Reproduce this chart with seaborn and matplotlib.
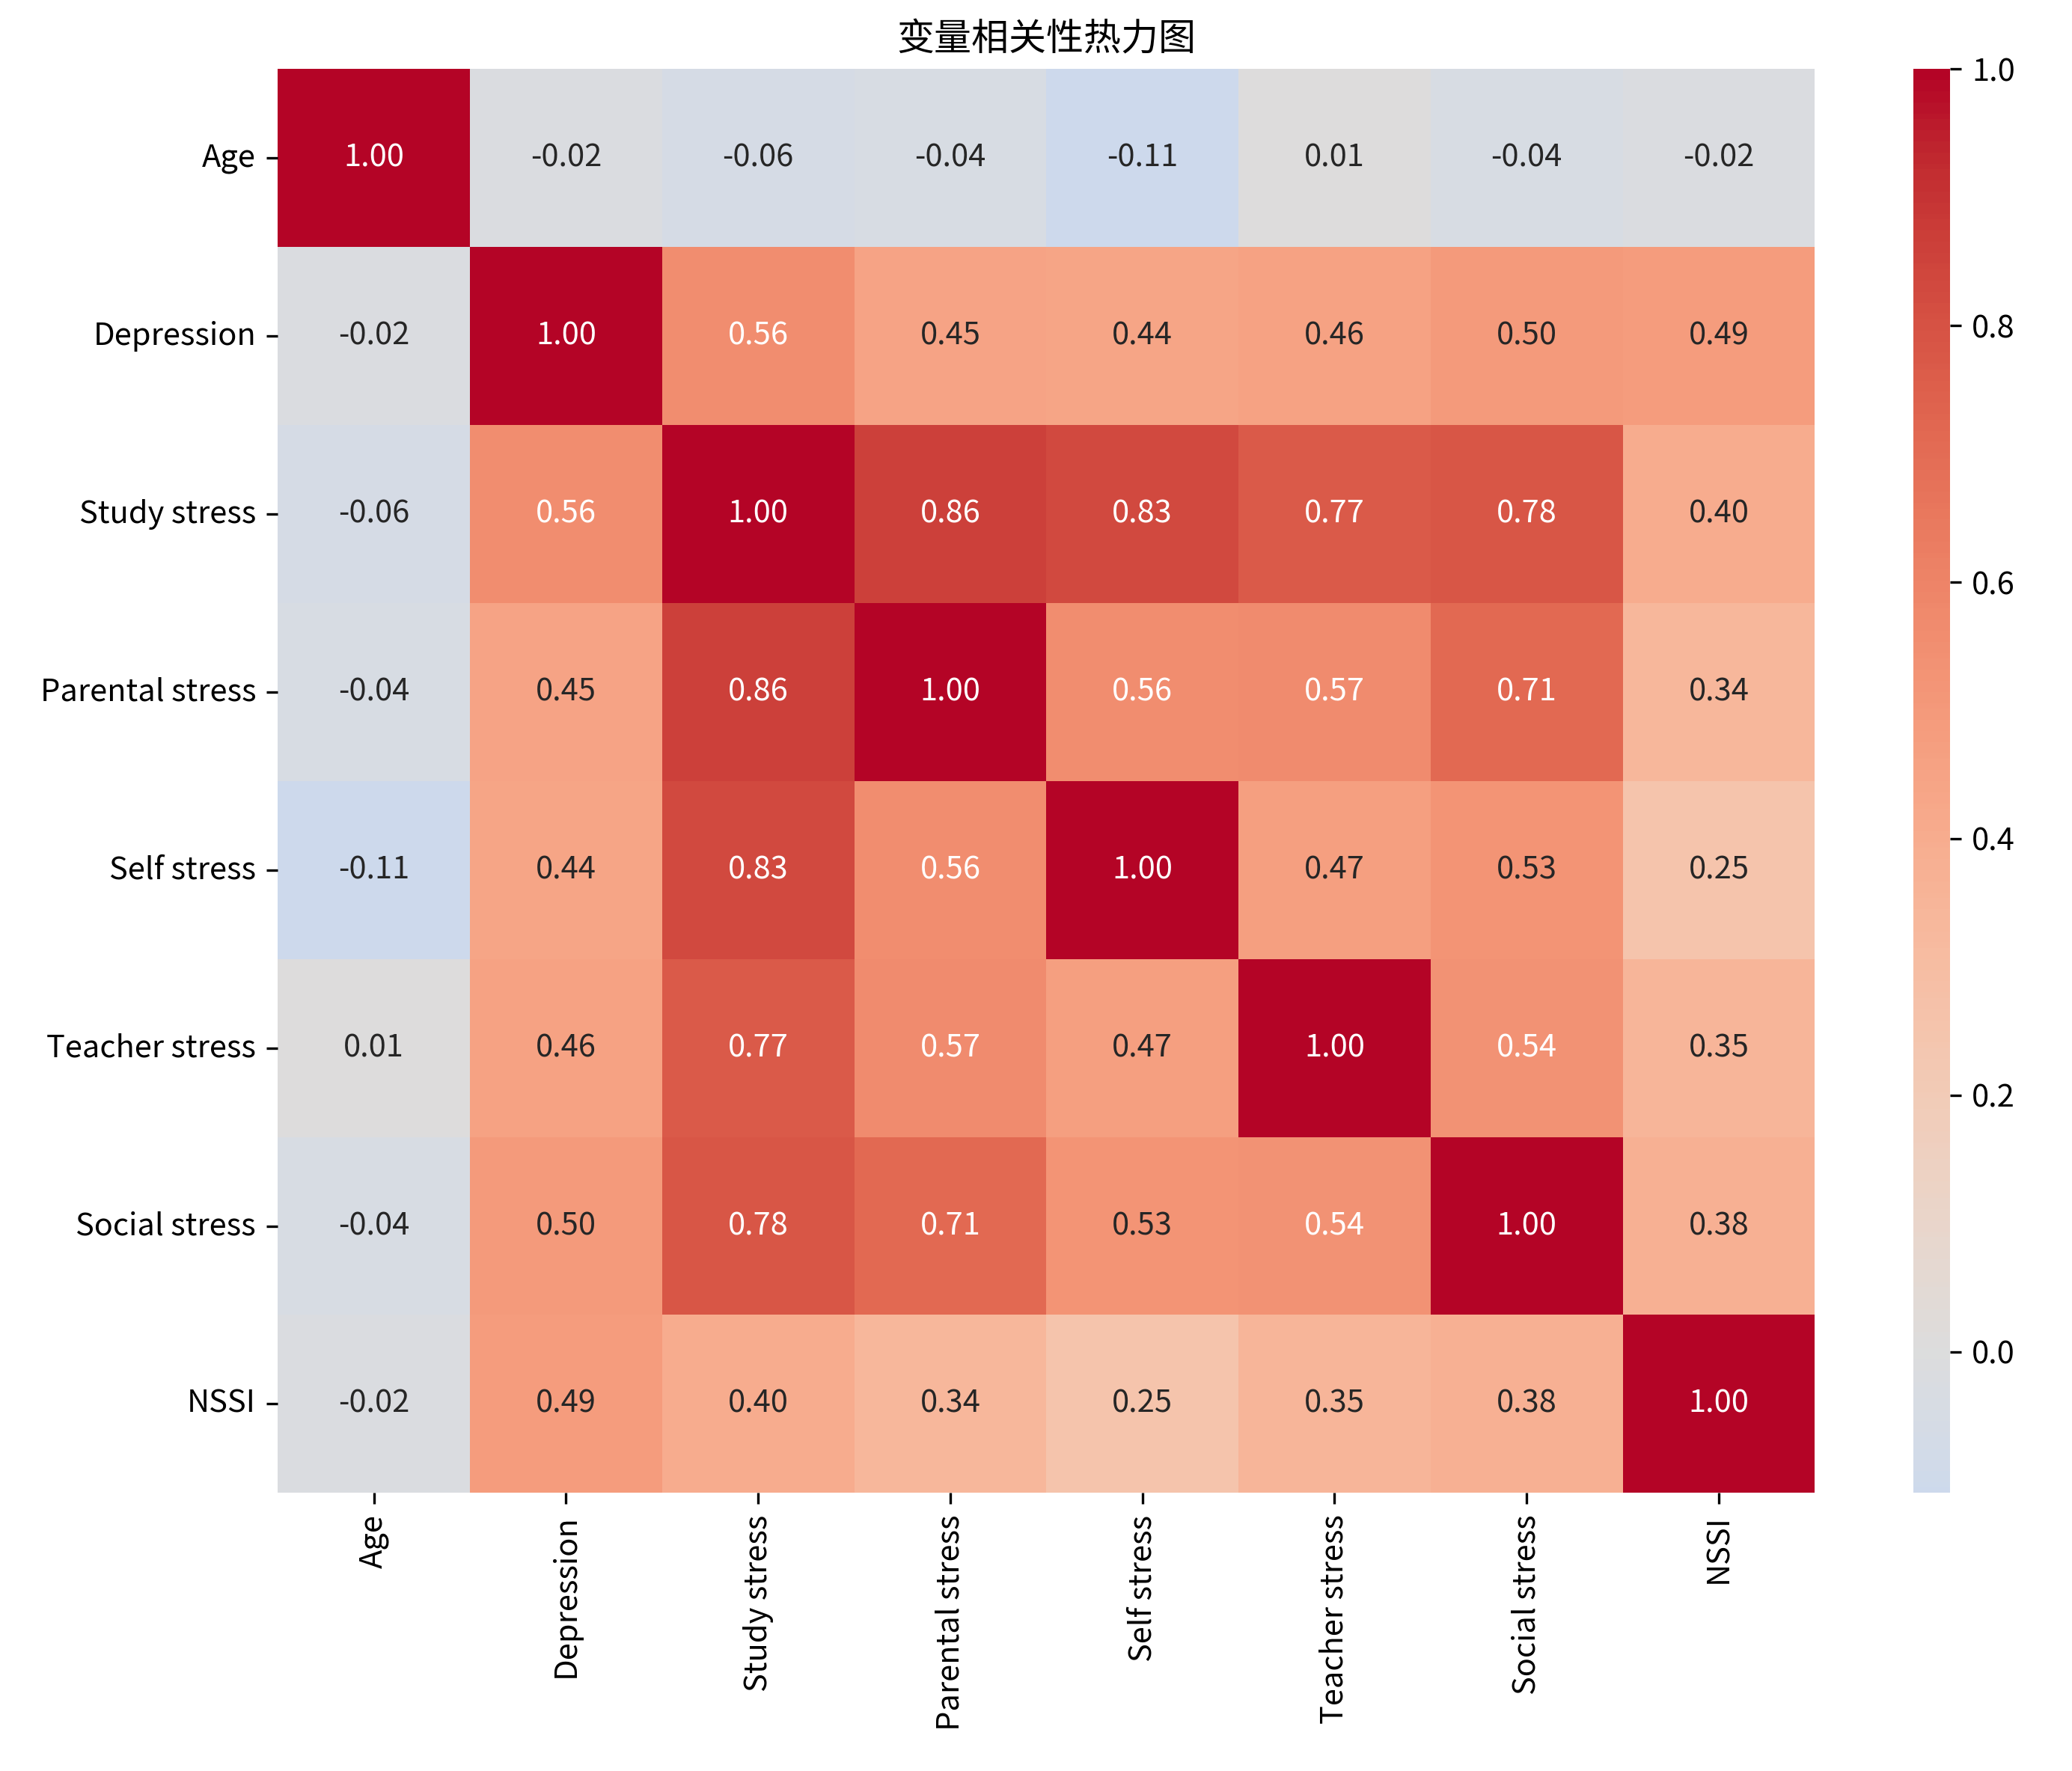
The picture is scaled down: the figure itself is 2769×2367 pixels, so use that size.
import numpy as np
import pandas as pd
import matplotlib
matplotlib.use("Agg")
import matplotlib.pyplot as plt
import seaborn as sns

# --- DATA ---
variables = ["Age", "Depression", "Study stress", "Parental stress",
             "Self stress", "Teacher stress", "Social stress", "NSSI"]

row_age = [1.00, -0.02, -0.06, -0.04, -0.11, 0.01, -0.04, -0.02]
row_depression = [-0.02, 1.00, 0.56, 0.45, 0.44, 0.46, 0.50, 0.49]
row_study = [-0.06, 0.56, 1.00, 0.86, 0.83, 0.77, 0.78, 0.40]
row_parental = [-0.04, 0.45, 0.86, 1.00, 0.56, 0.57, 0.71, 0.34]
row_self = [-0.11, 0.44, 0.83, 0.56, 1.00, 0.47, 0.53, 0.25]
row_teacher = [0.01, 0.46, 0.77, 0.57, 0.47, 1.00, 0.54, 0.35]
row_social = [-0.04, 0.50, 0.78, 0.71, 0.53, 0.54, 1.00, 0.38]
row_nssi = [-0.02, 0.49, 0.40, 0.34, 0.25, 0.35, 0.38, 1.00]

title = "变量相关性热力图"

# --- font ---
plt.rcParams['font.family'] = ['Noto Sans CJK SC', 'DejaVu Sans']
plt.rcParams['font.size'] = 10

corr = pd.DataFrame(
    [row_age, row_depression, row_study, row_parental,
     row_self, row_teacher, row_social, row_nssi],
    index=variables, columns=variables)

fig = plt.figure(figsize=(2770 / 300, 2367 / 300), dpi=300)
ax = fig.add_axes([0.134, 0.157, 0.8756 - 0.134, 0.961 - 0.157])
cax = fig.add_axes([0.923, 0.157, 0.9407 - 0.923, 0.961 - 0.157])

sns.heatmap(corr, annot=True, fmt=".2f", cmap="coolwarm", center=0,
            ax=ax, cbar_ax=cax)

ax.set_title(title, fontsize=12)
ax.tick_params(axis='y', rotation=0)
ax.tick_params(axis='x', rotation=90)

fig.savefig("out.png", dpi=300)
plt.close()
